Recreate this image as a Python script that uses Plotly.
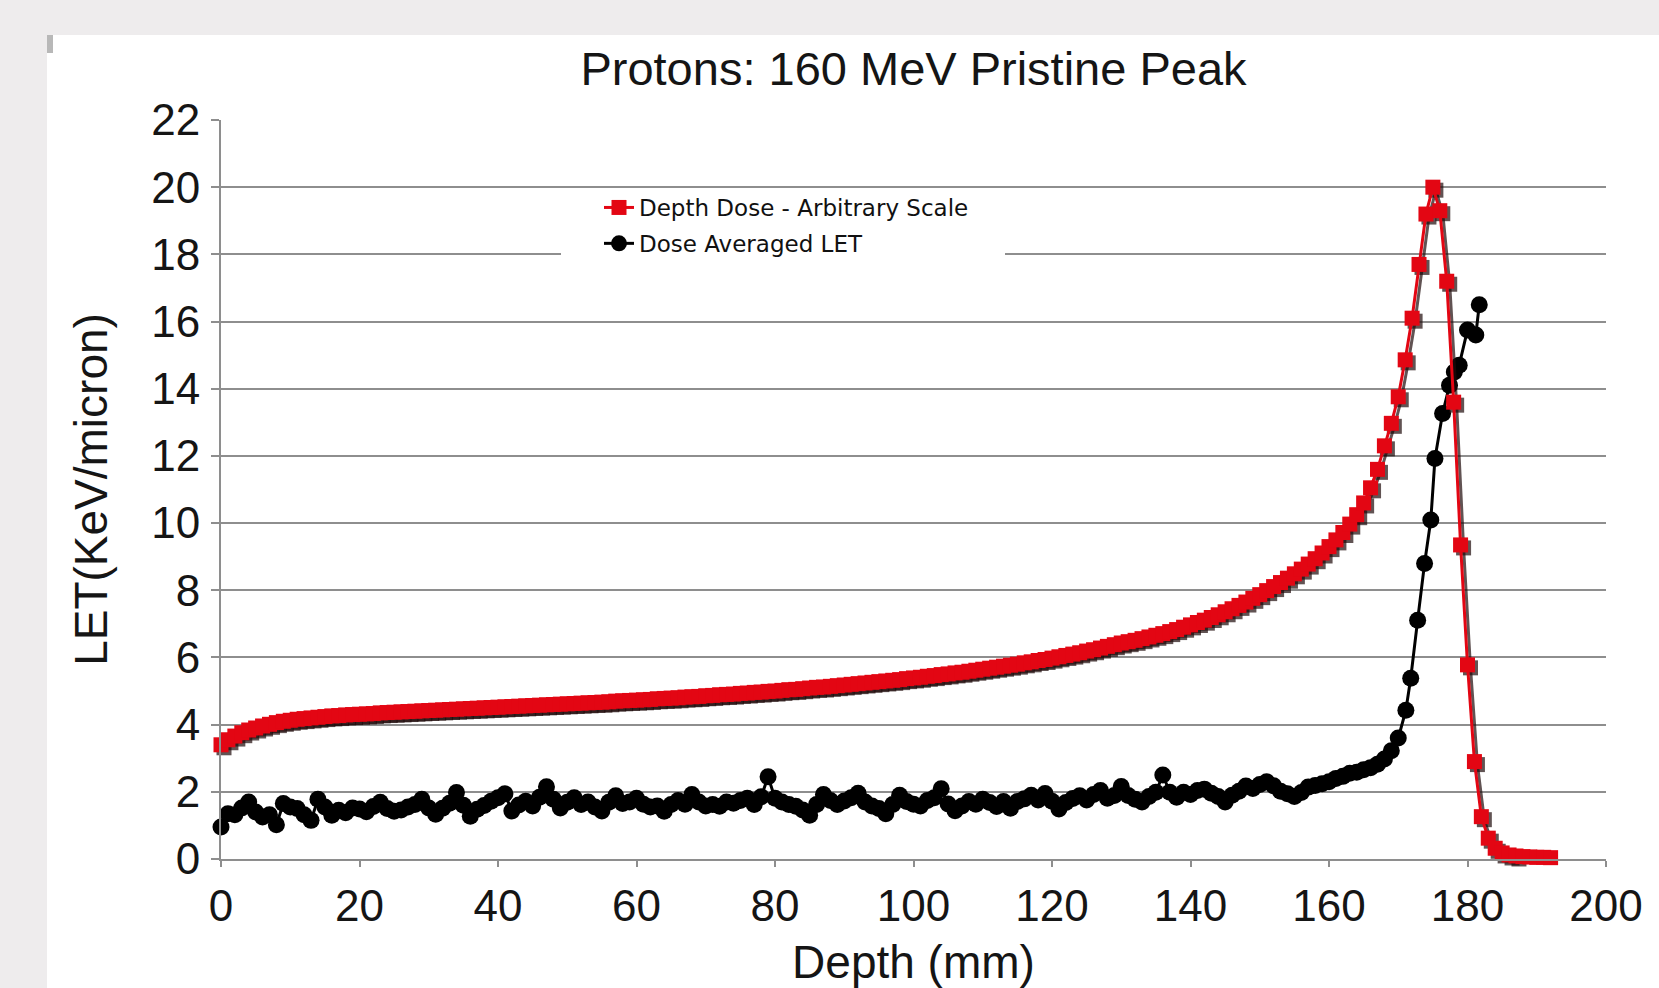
import plotly.graph_objects as go

# ---------------- data ----------------
title_text = "Protons: 160 MeV Pristine Peak"
x_title = "Depth (mm)"
y_title = "LET(KeV/micron)"
dose_name = "Depth Dose - Arbitrary Scale"
let_name = "Dose Averaged LET"

x_ticks = [0, 20, 40, 60, 80, 100, 120, 140, 160, 180, 200]
y_ticks = [0, 2, 4, 6, 8, 10, 12, 14, 16, 18, 20, 22]

dose_depth = list(range(0, 193))
dose_values = [
    3.40, 3.55, 3.66, 3.76, 3.84, 3.90, 3.96, 4.01, 4.06, 4.10,
    4.13, 4.16, 4.18, 4.20, 4.22, 4.24, 4.26, 4.27, 4.29, 4.30,
    4.31, 4.32, 4.33, 4.35, 4.36, 4.37, 4.38, 4.39, 4.40, 4.41,
    4.42, 4.43, 4.44, 4.45, 4.46, 4.47, 4.48, 4.49, 4.50, 4.51,
    4.52, 4.53, 4.54, 4.55, 4.56, 4.57, 4.58, 4.59, 4.60, 4.61,
    4.62, 4.63, 4.64, 4.65, 4.66, 4.67, 4.68, 4.70, 4.71, 4.72,
    4.73, 4.74, 4.75, 4.77, 4.78, 4.79, 4.80, 4.82, 4.83, 4.84,
    4.86, 4.87, 4.89, 4.90, 4.91, 4.93, 4.94, 4.96, 4.97, 4.99,
    5.00, 5.02, 5.04, 5.05, 5.07, 5.09, 5.11, 5.12, 5.14, 5.16,
    5.18, 5.20, 5.22, 5.24, 5.26, 5.28, 5.30, 5.32, 5.34, 5.37,
    5.39, 5.41, 5.44, 5.46, 5.49, 5.51, 5.54, 5.56, 5.59, 5.62,
    5.65, 5.68, 5.71, 5.74, 5.77, 5.80, 5.84, 5.87, 5.91, 5.94,
    5.98, 6.02, 6.06, 6.10, 6.14, 6.19, 6.23, 6.28, 6.33, 6.38,
    6.43, 6.47, 6.51, 6.56, 6.61, 6.66, 6.71, 6.77, 6.83, 6.90,
    6.97, 7.04, 7.11, 7.19, 7.27, 7.36, 7.45, 7.55, 7.65, 7.76,
    7.87, 7.99, 8.11, 8.23, 8.36, 8.49, 8.63, 8.78, 8.94, 9.11,
    9.30, 9.50, 9.72, 9.97, 10.25, 10.60, 11.05, 11.60, 12.30, 12.97,
    13.76, 14.86, 16.10, 17.70, 19.20, 20.00, 19.30, 17.20, 13.60, 9.35,
    5.78, 2.90, 1.26, 0.62, 0.32, 0.18, 0.12, 0.09, 0.07, 0.06,
    0.05, 0.05, 0.04,
]

let_depth = list(range(0, 171)) + [
    171.1, 171.8, 172.8, 173.8, 174.7, 175.3, 176.4, 177.4, 178.1, 178.8,
    180.0, 181.2, 181.7,
]
let_values = [
    0.95, 1.35, 1.32, 1.52, 1.70, 1.40, 1.25, 1.32, 1.02, 1.65,
    1.55, 1.50, 1.32, 1.15, 1.78, 1.55, 1.30, 1.45, 1.38, 1.52,
    1.49, 1.41, 1.56, 1.69, 1.50, 1.42, 1.46, 1.55, 1.62, 1.78,
    1.52, 1.33, 1.51, 1.66, 1.98, 1.60, 1.27, 1.48, 1.59, 1.72,
    1.82, 1.94, 1.43, 1.61, 1.72, 1.58, 1.84, 2.15, 1.78, 1.52,
    1.69, 1.82, 1.62, 1.70, 1.55, 1.43, 1.69, 1.88, 1.65, 1.70,
    1.81, 1.63, 1.55, 1.58, 1.42, 1.62, 1.74, 1.63, 1.92, 1.70,
    1.58, 1.62, 1.57, 1.70, 1.66, 1.74, 1.81, 1.62, 1.85, 2.45,
    1.81, 1.70, 1.62, 1.57, 1.46, 1.30, 1.62, 1.92, 1.74, 1.62,
    1.73, 1.82, 1.96, 1.70, 1.58, 1.50, 1.35, 1.62, 1.90, 1.71,
    1.63, 1.58, 1.74, 1.82, 2.09, 1.64, 1.44, 1.58, 1.71, 1.63,
    1.78, 1.68, 1.56, 1.71, 1.51, 1.71, 1.79, 1.90, 1.76, 1.95,
    1.72, 1.49, 1.68, 1.80, 1.88, 1.76, 1.92, 2.04, 1.81, 1.89,
    2.16, 1.89, 1.78, 1.70, 1.86, 1.99, 2.50, 1.99, 1.84, 1.99,
    1.92, 2.04, 2.08, 1.96, 1.86, 1.70, 1.90, 2.02, 2.17, 2.10,
    2.22, 2.30, 2.18, 2.02, 1.94, 1.86, 1.98, 2.14, 2.19, 2.24,
    2.30, 2.40, 2.46, 2.55, 2.58, 2.66, 2.72, 2.82, 2.98, 3.22,
    3.60,
    4.43, 5.38, 7.11, 8.80, 10.09, 11.92, 13.26, 14.10, 14.50, 14.70,
    15.75, 15.60, 16.50,
]

# ---------------- style ----------------
RED = "#e30613"
BLACK = "#000000"
GRID = "#8e8e8e"
TEXT = "#151515"
FONT = "Liberation Sans, Arial, sans-serif"

W, H = 1659, 988
L, R, T, B = 221, 53, 120, 129
plot_w = W - L - R
plot_h = H - T - B
X_RANGE = [0, 200]
Y_RANGE = [0, 22]
# shadow offset (pixels) -> data units
sdx = 3.0 * (X_RANGE[1] - X_RANGE[0]) / plot_w
sdy = 3.0 * (Y_RANGE[1] - Y_RANGE[0]) / plot_h

fig = go.Figure()

# LET series on the base axes
fig.add_trace(go.Scatter(
    x=let_depth, y=let_values,
    name=let_name, legendrank=2, legendgroup="b",
    mode="lines+markers",
    line=dict(color=BLACK, width=3),
    marker=dict(symbol="circle", size=17, color=BLACK),
    cliponaxis=False,
))

# shadow of the depth-dose series (drawn on an offset overlay axis)
fig.add_trace(go.Scatter(
    x=dose_depth, y=dose_values, xaxis="x2", yaxis="y2",
    mode="lines+markers", showlegend=False, hoverinfo="skip",
    line=dict(color="rgba(30,10,10,0.7)", width=3),
    marker=dict(symbol="square", size=15, color="rgba(30,10,10,0.7)"),
    cliponaxis=False,
))

fig.add_trace(go.Scatter(
    x=dose_depth, y=dose_values, xaxis="x3", yaxis="y3",
    name=dose_name, legendrank=1, legendgroup="a",
    mode="lines+markers",
    line=dict(color=RED, width=3),
    marker=dict(symbol="square", size=15, color=RED),
    cliponaxis=False,
))

axis_font = dict(family=FONT, size=44, color=TEXT)

fig.update_layout(
    width=W, height=H,
    margin=dict(l=L, r=R, t=T, b=B, autoexpand=False),
    paper_bgcolor="#eeeced",
    plot_bgcolor="white",
    title=dict(
        text=title_text, x=(L + plot_w / 2) / W, xanchor="center",
        y=1 - 69 / H, yanchor="middle",
        font=dict(family=FONT, size=47, color=TEXT),
    ),
    xaxis=dict(
        range=X_RANGE, tickvals=x_ticks, showgrid=False, zeroline=False,
        showline=True, linecolor=GRID, linewidth=2,
        ticks="outside", ticklen=6, tickwidth=2, tickcolor=GRID,
        tickfont=axis_font, ticklabelstandoff=1,
        title=dict(text=x_title, font=dict(family=FONT, size=46, color=TEXT), standoff=25),
    ),
    yaxis=dict(
        range=Y_RANGE, tickvals=y_ticks, showgrid=True, gridcolor=GRID, gridwidth=2,
        zeroline=False, showline=True, linecolor=GRID, linewidth=2,
        ticks="outside", ticklen=8, tickwidth=2, tickcolor=GRID,
        tickfont=axis_font, ticklabelstandoff=2,
        title=dict(text=y_title, font=dict(family=FONT, size=46, color=TEXT), standoff=29),
    ),
    xaxis2=dict(overlaying="x", range=[X_RANGE[0] - sdx, X_RANGE[1] - sdx], visible=False),
    yaxis2=dict(overlaying="y", range=[Y_RANGE[0] + sdy, Y_RANGE[1] + sdy], visible=False),
    xaxis3=dict(overlaying="x", range=X_RANGE, visible=False),
    yaxis3=dict(overlaying="y", range=Y_RANGE, visible=False),
    legend=dict(
        x=(599 - L) / plot_w, xanchor="left",
        y=1 - (186 - T) / plot_h, yanchor="top",
        bgcolor="rgba(0,0,0,0)", borderwidth=0,
        font=dict(family="Tahoma, DejaVu Sans, sans-serif", size=23, color="#111111"),
        tracegroupgap=3, itemwidth=30,
    ),
    shapes=[
        # white panel behind the chart
        dict(type="rect", xref="paper", yref="paper", layer="below",
             x0=(47 - L) / plot_w, x1=(W + 20 - L) / plot_w,
             y0=1 - (H + 20 - T) / plot_h, y1=1 - (35 - T) / plot_h,
             fillcolor="white", line=dict(width=0)),
        # small grey mark at the panel corner
        dict(type="rect", xref="paper", yref="paper", layer="below",
             x0=(47 - L) / plot_w, x1=(53 - L) / plot_w,
             y0=1 - (53 - T) / plot_h, y1=1 - (35 - T) / plot_h,
             fillcolor="#b8b8b8", line=dict(width=0)),
        # white legend background covering the gridline
        dict(type="rect", xref="paper", yref="paper", layer="above",
             x0=(561 - L) / plot_w, x1=(1005 - L) / plot_w,
             y0=1 - (262 - T) / plot_h, y1=1 - (195 - T) / plot_h,
             fillcolor="white", line=dict(width=0)),
    ],
)

fig.write_html(
    "out.html",
    config={"displayModeBar": False},
    post_script="document.body.style.margin='0';document.body.style.background='#eeeced';",
)
